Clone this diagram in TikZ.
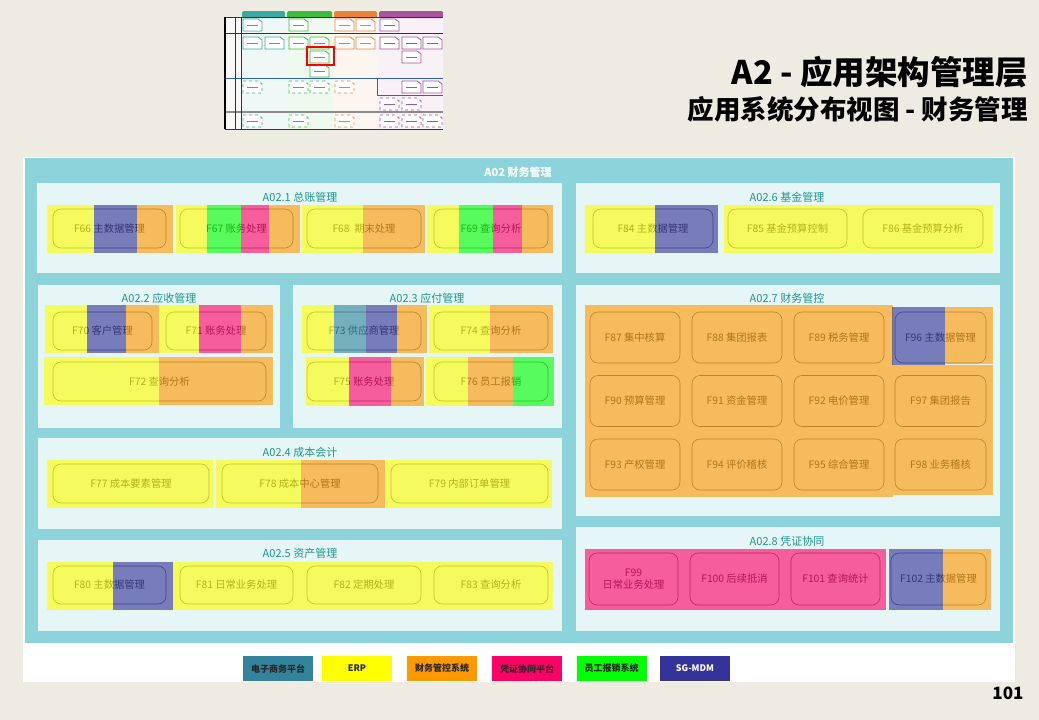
\documentclass[tikz,border=0pt]{standalone}
\usepackage{fontspec}
\setmainfont{Noto Sans CJK SC}
\definecolor{cyanbg}{HTML}{8DD3DC}
\definecolor{panelc}{HTML}{E6F5F5}
\definecolor{beige}{HTML}{EEEBE3}
\definecolor{cTeal}{HTML}{31849B}
\definecolor{cYel}{HTML}{FFFF00}
\definecolor{cOra}{HTML}{FF9900}
\definecolor{cPink}{HTML}{FF0066}
\definecolor{cGreen}{HTML}{00FF00}
\definecolor{cBlue}{HTML}{333399}
\definecolor{titlec}{HTML}{1E9690}
\definecolor{boxtext}{HTML}{3A3A3A}
\definecolor{boxline}{HTML}{606060}
\definecolor{tTeal}{HTML}{3AAAA0}
\definecolor{tGreen}{HTML}{3DBB3D}
\definecolor{tOra}{HTML}{E8843A}
\definecolor{tPur}{HTML}{A8549A}
\definecolor{tBlue}{HTML}{2F62B5}
\newcommand\fb[6]{\node[fbox,minimum width=#4pt,minimum height=#5pt] (#1) at (#2,#3) {#6};}
\newcommand\st[5]{\fill[strip,#1] (#2,#3) rectangle (#4,#5);}
\newcommand\ic[4][]{\draw[#4,line width=0.8pt,fill=white,#1] (#2,#3) -- ++(15,0) -- ++(4,3) -- ++(0,9) -- ++(-19,0) -- cycle; \draw[#4,line width=0.6pt] (#2+4,#3+6) -- ++(11,0);}
\begin{document}
\begin{tikzpicture}[x=1pt,y=-1pt,
  fbox/.style={draw=boxline,line width=0.6pt,rounded corners=8pt,text=boxtext,font=\fontsize{10.3}{12}\selectfont,inner sep=0pt,align=center},
  strip/.style={fill opacity=0.62,draw=none},
  panel/.style={fill=panelc,draw=none},
  ptitle/.style={text=titlec,font=\fontsize{11}{13}\selectfont},
  leg/.style={minimum width=70pt,minimum height=25pt,inner sep=0pt,font=\bfseries\fontsize{9}{10}\selectfont}]
\fill[beige] (0,0) rectangle (1039,720);
\useasboundingbox (0,0) rectangle (1039,720);
% ---------- thumbnail ----------
\fill[white!70!beige] (225,17) rectangle (443,129);
\fill[tTeal!8] (241,17) rectangle (287,129);
\fill[tGreen!8] (287,17) rectangle (333,129);
\fill[tOra!8] (333,17) rectangle (378,129);
\fill[tPur!8] (378,17) rectangle (443,129);
\fill[tTeal,rounded corners=1.5pt] (242,11) rectangle (285,18);
\fill[tGreen,rounded corners=1.5pt] (287,11) rectangle (332,18);
\fill[tOra,rounded corners=1.5pt] (334,11) rectangle (377,18);
\fill[tPur,rounded corners=1.5pt] (379,11) rectangle (443,18);
\draw[black!80,line width=0.8pt] (225,17) -- (443,17);
\draw[black!80,line width=0.8pt] (225,33) -- (443,33);
\draw[black!45,line width=1.5pt] (225,112) -- (443,112);
\draw[black!80,line width=0.8pt] (225,129) -- (443,129);
\draw[tBlue,line width=1pt] (225,78) -- (377,78) -- (377,95) -- (443,95);
\draw[tBlue,line width=0.6pt] (377,78) -- (443,78);
\draw[black,line width=1.8pt] (225,17) -- (225,129);
\draw[black!80,line width=0.8pt] (235,17) -- (235,129);
\draw[black!80,line width=0.8pt] (241,17) -- (241,129);
\ic{243}{19}{tTeal} \ic{289}{19}{tGreen} \ic{335}{19}{tOra} \ic{356}{19}{tOra} \ic{380}{19}{tPur}
\ic{243}{37}{tTeal} \ic{265}{37}{tTeal} \ic{289}{37}{tGreen} \ic{310}{37}{tGreen} \ic{335}{37}{tOra} \ic{356}{37}{tOra} \ic{380}{37}{tPur} \ic{402}{37}{tPur} \ic{423}{37}{tPur}
\ic{310}{51}{tGreen} \ic{402}{51}{tPur}
\ic{310}{65}{tGreen}
\ic[dashed]{243}{81}{tTeal} \ic[dashed]{289}{81}{tGreen} \ic[dashed]{310}{81}{tGreen} \ic[dashed]{335}{81}{tOra} \ic{402}{81}{tPur} \ic{423}{81}{tPur}
\ic[dashed]{380}{98}{tPur} \ic[dashed]{402}{98}{tPur}
\ic[dashed]{243}{115}{tTeal} \ic[dashed]{289}{115}{tGreen} \ic[dashed]{335}{115}{tOra} \ic[dashed]{380}{115}{tPur} \ic[dashed]{402}{115}{tPur} \ic[dashed]{423}{115}{tPur}
\draw[red,line width=2pt] (307,47) rectangle (334,65);
% ---------- titles ----------
\node[anchor=east,font=\bfseries\fontsize{32.5}{36}\selectfont,inner sep=0pt] (t1) at (1028,72) {A2 - 应用架构管理层};
\node[anchor=east,font=\bfseries\fontsize{26.5}{30}\selectfont,inner sep=0pt] (t2) at (1028,109) {应用系统分布视图 - 财务管理};
% ---------- main area ----------
\fill[white] (23,157) rectangle (1015,682);
\fill[cyanbg] (25,158) rectangle (1013,643);
\node[text=white,font=\bfseries\fontsize{11}{13}\selectfont] (a02) at (518,172) {A02 财务管理};
\fill[panel] (37,183) rectangle (562,273);
\fill[panel] (576,183) rectangle (1000,273);
\fill[panel] (38,285) rectangle (280,428);
\fill[panel] (293,285) rectangle (562,428);
\fill[panel] (576,285) rectangle (1000,516);
\fill[panel] (38,438) rectangle (562,529);
\fill[panel] (38,540) rectangle (562,631);
\fill[panel] (576,527) rectangle (1000,631);
% boxes
\fb{f66}{109.5}{228.5}{113}{39}{F66 主数据管理}
\fb{f67}{236.5}{228.5}{113}{39}{F67 账务处理}
\fb{f68}{364}{228.5}{114}{39}{F68 \ 期末处理}
\fb{f69}{491}{228.5}{114}{39}{F69 查询分析}
\fb{f84}{653}{228.5}{120}{39}{F84 主数据管理}
\fb{f85}{787.5}{228.5}{119}{39}{F85 基金预算控制}
\fb{f86}{923}{228.5}{120}{39}{F86 基金预算分析}
\fb{f70}{102.5}{331}{99}{38}{F70 客户管理}
\fb{f71}{216}{331}{100}{38}{F71 账务处理}
\fb{f72}{159.5}{381.5}{213}{39}{F72 查询分析}
\fb{f73}{364}{331}{114}{38}{F73 供应商管理}
\fb{f74}{491}{331}{114}{38}{F74 查询分析}
\fb{f75}{364}{381.5}{114}{39}{F75 账务处理}
\fb{f76}{491}{381.5}{114}{39}{F76 员工报销}
\fb{f87}{635}{337.5}{90}{51}{F87 集中核算}
\fb{f88}{737}{337.5}{90}{51}{F88 集团报表}
\fb{f89}{839}{337.5}{90}{51}{F89 税务管理}
\fb{f96}{940.5}{337.5}{91}{51}{F96 主数据管理}
\fb{f90}{635}{401}{90}{51}{F90 预算管理}
\fb{f91}{737}{401}{90}{51}{F91 资金管理}
\fb{f92}{839}{401}{90}{51}{F92 电价管理}
\fb{f97}{940.5}{401}{91}{51}{F97 集团报告}
\fb{f93}{635}{464.5}{90}{51}{F93 产权管理}
\fb{f94}{737}{464.5}{90}{51}{F94 评价稽核}
\fb{f95}{839}{464.5}{90}{51}{F95 综合管理}
\fb{f98}{940.5}{464.5}{91}{51}{F98 业务稽核}
\fb{f77}{131}{483.5}{156}{39}{F77 成本要素管理}
\fb{f78}{300}{483.5}{156}{39}{F78 成本中心管理}
\fb{f79}{469.5}{483.5}{157}{39}{F79 内部订单管理}
\fb{f80}{109.5}{585}{113}{38}{F80 主数据管理}
\fb{f81}{236.5}{585}{113}{38}{F81 日常业务处理}
\fb{f82}{364}{585}{114}{38}{F82 定期处理}
\fb{f83}{491}{585}{114}{38}{F83 查询分析}
\fb{f99}{633.5}{579}{89}{52}{F99\\日常业务处理}
\fb{f100}{734.5}{579}{89}{52}{F100 后续抵消}
\fb{f101}{835.5}{579}{89}{52}{F101 查询统计}
\fb{f102}{938.5}{579}{95}{52}{F102 主数据管理}
% strips A02.1
\st{cYel}{47}{205}{94}{253} \st{cBlue}{94}{205}{137}{253} \st{cOra}{137}{205}{173}{253}
\st{cYel}{176}{205}{207}{253} \st{cGreen}{207}{205}{241}{253} \st{cPink}{241}{205}{269}{253} \st{cOra}{269}{205}{300}{253}
\st{cYel}{302}{205}{363}{253} \st{cOra}{363}{205}{425}{253}
\st{cYel}{427}{205}{459}{253} \st{cGreen}{459}{205}{493}{253} \st{cPink}{493}{205}{522}{253} \st{cOra}{522}{205}{553}{253}
% A02.6
\st{cYel}{585}{205}{655}{253} \st{cBlue}{655}{205}{718}{253}
\st{cYel}{724}{205}{993}{253}
% A02.2
\st{cYel}{45}{305}{87}{353} \st{cBlue}{87}{305}{126}{353} \st{cOra}{126}{305}{159}{353}
\st{cYel}{159}{305}{199}{353} \st{cPink}{199}{305}{241}{353} \st{cOra}{241}{305}{273}{353}
\st{cYel}{44}{357}{159}{405} \st{cOra}{159}{357}{273}{405}
% A02.3
\st{cYel}{302}{305}{334}{353} \st{cTeal}{334}{305}{366}{353} \st{cBlue}{366}{305}{397}{353} \st{cOra}{397}{305}{427}{353}
\st{cYel}{429}{305}{490}{353} \st{cOra}{490}{305}{553}{353}
\st{cYel}{306}{357}{349}{406} \st{cPink}{349}{357}{391}{406} \st{cOra}{391}{357}{424}{406}
\st{cYel}{426}{357}{468}{406} \st{cOra}{468}{357}{513}{406} \st{cGreen}{513}{357}{554}{406}
% A02.7
\st{cOra}{585}{305}{893}{497}
\st{cOra}{893}{365}{993}{495}
\st{cBlue}{892}{307}{945}{365} \st{cOra}{945}{307}{993}{364}
% A02.4
\st{cYel}{47}{460}{213}{508}
\st{cYel}{216}{460}{301}{508} \st{cOra}{301}{460}{385}{508}
\st{cYel}{385}{460}{552}{508}
% A02.5
\st{cYel}{47}{562}{113}{610} \st{cBlue}{113}{562}{173}{610} \st{cYel}{173}{562}{553}{610}
% A02.8
\st{cPink}{585}{549}{886}{610}
\st{cBlue}{889}{549}{943}{610} \st{cOra}{943}{549}{991}{610}
% panel titles
\node[ptitle] (p1) at (300,197) {A02.1 总账管理};
\node[ptitle] (p6) at (787,197) {A02.6 基金管理};
\node[ptitle] (p2) at (159,298) {A02.2 应收管理};
\node[ptitle] (p3) at (427,298) {A02.3 应付管理};
\node[ptitle] (p7) at (787,298) {A02.7 财务管控};
\node[ptitle] (p4) at (300,452) {A02.4 成本会计};
\node[ptitle] (p5) at (300,553) {A02.5 资产管理};
\node[ptitle] (p8) at (787,541) {A02.8 凭证协同};
% legend
\node[leg,fill=cTeal,text=black!85] (l1) at (278,668.5) {电子商务平台};
\node[leg,fill=cYel,text=black!85] (l2) at (357,668.5) {ERP};
\node[leg,fill=cOra,text=black!85] (l3) at (442,668.5) {财务管控系统};
\node[leg,fill=cPink,text=black!85] (l4) at (527,668.5) {凭证协同平台};
\node[leg,fill=cGreen,text=black!85] (l5) at (611.5,668.5) {员工报销系统};
\node[leg,fill=cBlue,text=white] (l6) at (695,668.5) {SG-MDM};
% page number
\node[font=\bfseries\fontsize{17}{19}\selectfont] (pg) at (1008,693) {101};
\end{tikzpicture}
\end{document}
